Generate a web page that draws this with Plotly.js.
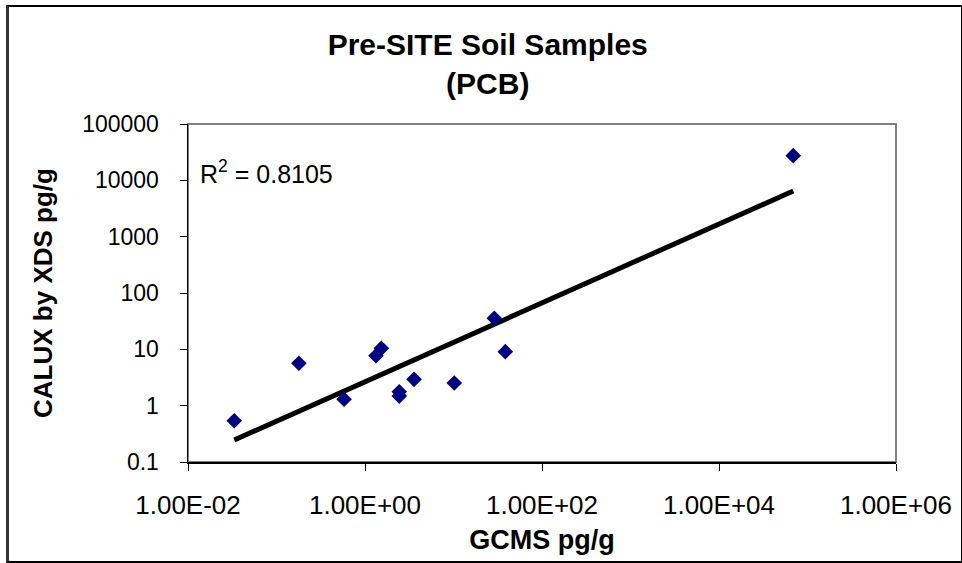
<!DOCTYPE html>
<html>
<head>
<meta charset="utf-8">
<script src="https://cdn.plot.ly/plotly-3.0.1.min.js"></script>
<style>
  html, body { margin: 0; padding: 0; background: #fff; }
  #chart { position: absolute; left: 0; top: 0; width: 962px; height: 563px; }
  #frame { position: absolute; left: 6px; top: 5px; width: 952px; height: 554px;
           border: 2px solid #000; border-left: 3px solid #333; pointer-events: none; }
</style>
</head>
<body>
<div id="chart"></div>
<div id="frame"></div>
<script>
// Data
const gcms  = [0.0333, 0.179, 0.58, 1.33, 1.53, 2.44, 2.44, 3.58, 10.2, 28.9, 38.5, 69000];
const calux = [0.54, 5.65, 1.30, 7.7, 10.4, 1.77, 1.48, 2.93, 2.52, 35.6, 9.1, 27400];

const xTickVals = [1e-2, 1e0, 1e2, 1e4, 1e6];
const xTickText = ["1.00E-02", "1.00E+00", "1.00E+02", "1.00E+04", "1.00E+06"];
const yTickVals = [0.1, 1, 10, 100, 1000, 10000, 100000];
const yTickText = ["0.1", "1", "10", "100", "1000", "10000", "100000"];

const chartTitle = "Pre-SITE Soil Samples<br>(PCB)";
const xTitle = "GCMS pg/g";
const yTitle = "CALUX by XDS pg/g";
const r2Text = "R<sup>2</sup> = 0.8105";

// Power trendline (least squares in log-log space, as Excel does)
const lx = gcms.map(v => Math.log10(v));
const ly = calux.map(v => Math.log10(v));
const n = lx.length;
const mx = lx.reduce((a, b) => a + b, 0) / n;
const my = ly.reduce((a, b) => a + b, 0) / n;
let sxy = 0, sxx = 0;
for (let i = 0; i < n; i++) { sxy += (lx[i] - mx) * (ly[i] - my); sxx += (lx[i] - mx) ** 2; }
const slope = sxy / sxx, icpt = my - slope * mx;
const xmin = Math.min(...gcms), xmax = Math.max(...gcms);
const trendX = [xmin, xmax];
const trendY = trendX.map(v => Math.pow(10, icpt + slope * Math.log10(v)));

const font = "Arial, 'Liberation Sans', sans-serif";

const traces = [
  {
    x: trendX, y: trendY, type: "scatter", mode: "lines",
    line: { color: "#000000", width: 5 }, hoverinfo: "skip", showlegend: false
  },
  {
    x: gcms, y: calux, type: "scatter", mode: "markers",
    marker: { symbol: "diamond", size: 12, color: "#000080", line: { width: 0 } },
    showlegend: false
  }
];

const layout = {
  width: 962, height: 563,
  margin: { l: 188, r: 66, t: 124, b: 101 },
  paper_bgcolor: "#ffffff", plot_bgcolor: "#ffffff",
  font: { family: font, color: "#000000", size: 22 },
  title: {
    text: chartTitle,
    font: { family: font, size: 30, color: "#000000", weight: "bold" },
    xref: "container", yref: "container",
    x: 0.507, xanchor: "center", y: 1 - 55 / 563, yanchor: "top",
    pad: { t: 0, b: 0 }
  },
  xaxis: {
    type: "log", range: [-2, 6],
    tickmode: "array", tickvals: xTickVals, ticktext: xTickText,
    ticks: "outside", ticklen: 7, tickwidth: 1, tickcolor: "#000",
    ticklabelstandoff: 12,
    showline: true, linecolor: "#000", linewidth: 1.5, mirror: false,
    showgrid: false, zeroline: false,
    tickfont: { family: font, size: 26, color: "#000" },
    title: { text: xTitle, font: { family: font, size: 27, color: "#000", weight: "bold" }, standoff: 11 }
  },
  yaxis: {
    type: "log", range: [-1, 5],
    tickmode: "array", tickvals: yTickVals, ticktext: yTickText,
    ticks: "outside", ticklen: 7, tickwidth: 1, tickcolor: "#000",
    ticklabelstandoff: 16,
    showline: true, linecolor: "#000", linewidth: 1.5, mirror: false,
    showgrid: false, zeroline: false,
    tickfont: { family: font, size: 23, color: "#000" },
    title: { text: yTitle, font: { family: font, size: 26, color: "#000", weight: "bold" }, standoff: 22 }
  },
  shapes: [
    { type: "rect", xref: "paper", yref: "paper", x0: 0, x1: 1, y0: 0, y1: 1,
      line: { color: "#808080", width: 2 }, layer: "below" }
  ],
  annotations: [
    { text: r2Text, xref: "paper", yref: "paper", x: 10 / 708, y: (462 - 172) / 338,
      xanchor: "left", yanchor: "middle", showarrow: false,
      font: { family: font, size: 25, color: "#000" } }
  ]
};

Plotly.newPlot("chart", traces, layout, { displayModeBar: false, staticPlot: true });
</script>
</body>
</html>
